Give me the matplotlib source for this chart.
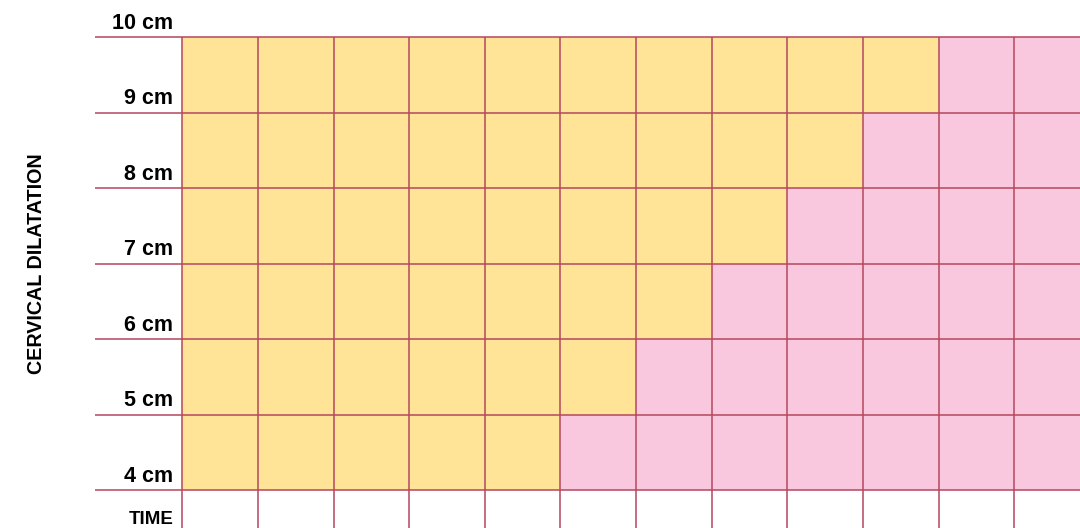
import matplotlib
matplotlib.use("Agg")
import matplotlib.pyplot as plt

# Data
levels = [4, 5, 6, 7, 8, 9]            # lower bound (cm) of each row
yellow_cols = [5, 6, 7, 8, 9, 10]      # number of yellow (alert) cells per row
n_cols = 12
y_labels = ["4 cm", "5 cm", "6 cm", "7 cm", "8 cm", "9 cm", "10 cm"]
y_label_vals = [4, 5, 6, 7, 8, 9, 10]

YELLOW = "#FFE497"
PINK = "#F9C8DE"
LINE = "#B5475E"
FONT = ["Liberation Sans Narrow", "Liberation Sans", "DejaVu Sans"]

fig = plt.figure(figsize=(10.8, 5.28), dpi=100)
ax = fig.add_axes([0, 0, 1, 1])
ax.set_xlim(-2.410, 11.868)
ax.set_ylim(3.4964, 10.494)
ax.axis("off")

pink_w = [n_cols - y for y in yellow_cols]
ax.barh(levels, yellow_cols, left=0, height=1, align="edge", color=YELLOW, linewidth=0, zorder=1)
ax.barh(levels, pink_w, left=yellow_cols, height=1, align="edge", color=PINK, linewidth=0, zorder=1)

ax.hlines(y_label_vals, -1.154, n_cols, colors=LINE, linewidth=1.1, zorder=3)
ax.vlines(range(n_cols), 3.3, 10, colors=LINE, linewidth=1.1, zorder=3)

for v, lab in zip(y_label_vals, y_labels):
    ax.text(-0.127, v + 0.11, lab, ha="right", va="baseline", fontsize=15.5,
            fontweight="bold", family=FONT)

ax.text(-0.12, 3.545, "TIME", ha="right", va="baseline", fontsize=13.5,
        fontweight="bold", family=FONT)
ax.text(-1.93, 7.0, "CERVICAL DILATATION", ha="center", va="center", rotation=90,
        fontsize=14.2, fontweight="bold", family=FONT)

fig.savefig("out.png", dpi=100)
